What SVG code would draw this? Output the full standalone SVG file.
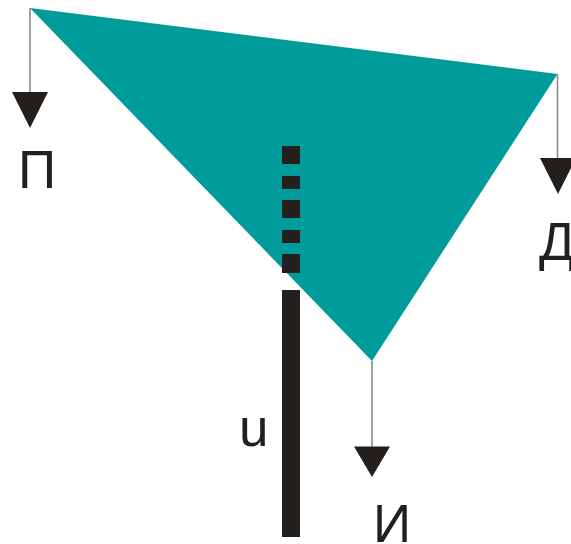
<svg xmlns="http://www.w3.org/2000/svg" width="571" height="544" viewBox="0 0 571 544">
<style>
.lbl{font-family:"Liberation Sans",Arial,sans-serif;font-size:53px;fill:#231f1c}
.ln{stroke:#8a8a8a;stroke-width:1.6;fill:none}
.ah{fill:#231f1c}
.bar{fill:#231f1c}
</style>
<rect width="571" height="544" fill="#ffffff"/>
<g id="triangle">
<polygon points="30,8 557.5,74 372,361" fill="#009b9b"/>
</g>
<g id="connectors">
<line class="ln" x1="30" y1="8" x2="30" y2="94"/>
<polygon class="ah" points="12,92 48,92 30,128"/>
<line class="ln" x1="557.5" y1="74" x2="557.5" y2="160"/>
<polygon class="ah" points="540,158 576,158 558,194"/>
<line class="ln" x1="372" y1="361" x2="372" y2="448"/>
<polygon class="ah" points="354,446.5 390,446.5 372,477"/>
</g>
<g id="node-u">
<rect class="bar" x="282" y="146" width="18" height="18"/>
<rect class="bar" x="282" y="176" width="18" height="13"/>
<rect class="bar" x="282" y="200" width="18" height="18"/>
<rect class="bar" x="282" y="230" width="18" height="13"/>
<rect class="bar" x="282" y="254" width="18" height="19"/>
<rect class="bar" x="282" y="290" width="18" height="247"/>
<text class="lbl" x="239" y="446">u</text>
</g>
<g id="node-P"><text class="lbl" x="18" y="188">П</text></g>
<g id="node-D"><text class="lbl" x="539" y="260">Д</text></g>
<g id="node-I"><text class="lbl" x="373" y="542">И</text></g>
</svg>
